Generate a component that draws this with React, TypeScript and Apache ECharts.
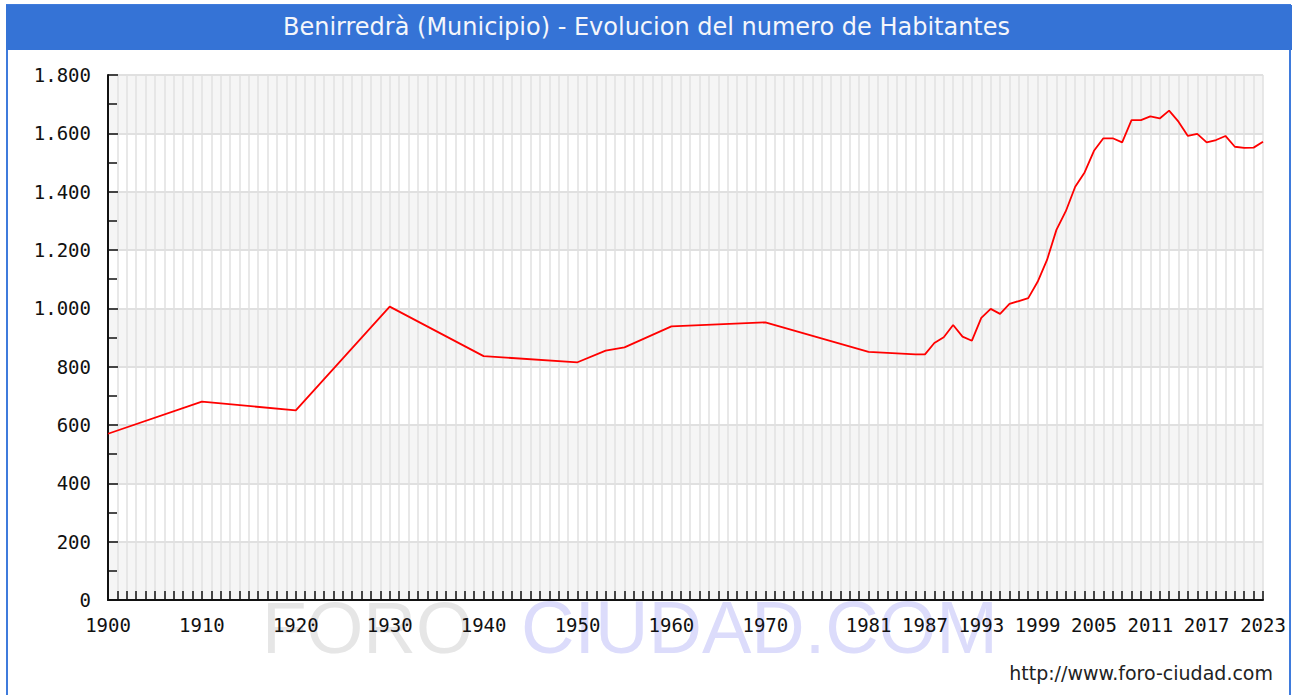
import React, { useEffect, useRef } from "react";
import * as echarts from "echarts";

const TITLE = "Benirredrà (Municipio) - Evolucion del numero de Habitantes";
const URL_TEXT = "http://www.foro-ciudad.com";

const years = [
  1900, 1910, 1920, 1930, 1940, 1950, 1953, 1955, 1960, 1970, 1981, 1986, 1987,
  1988, 1989, 1990, 1991, 1992, 1993, 1994, 1995, 1996, 1997, 1998, 1999, 2000,
  2001, 2002, 2003, 2004, 2005, 2006, 2007, 2008, 2009, 2010, 2011, 2012, 2013,
  2014, 2015, 2016, 2017, 2018, 2019, 2020, 2021, 2022, 2023,
];
const population = [
  570, 680, 650, 1006, 836, 815, 855, 866, 938, 952, 851, 842, 842,
  881, 901, 943, 903, 889, 967, 998, 981, 1015, 1025, 1035, 1091, 1166,
  1269, 1333, 1417, 1466, 1540, 1583, 1583, 1569, 1645, 1645, 1658, 1651, 1678,
  1640, 1591, 1598, 1569, 1577, 1591, 1554, 1550, 1551, 1571,
];
const xLabelYears = [
  1900, 1910, 1920, 1930, 1940, 1950, 1960, 1970, 1981, 1987, 1993, 1999, 2005,
  2011, 2017, 2023,
];

function fmtThousands(v: number): string {
  if (v >= 1000) {
    const t = Math.floor(v / 1000);
    const r = String(v % 1000).padStart(3, "0");
    return `${t}.${r}`;
  }
  return String(v);
}

export default function App() {
  const ref = useRef<HTMLDivElement>(null);
  useEffect(() => {
    if (!ref.current) return;
    const chart = echarts.init(ref.current, null, { renderer: "svg" });
    const mono = "DejaVu Sans Mono";
    chart.setOption({
      animation: false,
      title: {
        text: TITLE,
        left: "center",
        top: 15,
        padding: 0,
        textStyle: {
          color: "#f4f6fb",
          fontFamily: "DejaVu Sans",
          fontSize: 24,
          fontWeight: "normal",
        },
        z: 10,
      },
      graphic: [
        {
          type: "rect",
          z: -10,
          silent: true,
          shape: { x: 7, y: 5, width: 1283, height: 700 },
          style: { fill: "#ffffff", stroke: "#3f7bdc", lineWidth: 2 },
        },
        {
          type: "rect",
          z: -9,
          silent: true,
          shape: { x: 6, y: 5, width: 1286, height: 45 },
          style: { fill: "#3573d6" },
        },
        {
          type: "text",
          z: -8,
          silent: true,
          x: 262,
          y: 627,
          style: {
            text: "FORO",
            fontFamily: "Liberation Sans",
            fontSize: 73,
            fill: "#e6e6e6",
            verticalAlign: "middle",
            align: "left",
          },
        },
        {
          type: "text",
          z: -8,
          silent: true,
          x: 521,
          y: 627,
          style: {
            text: "CIUDAD.COM",
            fontFamily: "Liberation Sans",
            fontSize: 74,
            fill: "#dcdcfb",
            verticalAlign: "middle",
            align: "left",
          },
        },
        {
          type: "text",
          z: 5,
          silent: true,
          x: 1273,
          y: 673,
          style: {
            text: URL_TEXT,
            fontFamily: "DejaVu Sans",
            fontSize: 19,
            fill: "#222222",
            align: "right",
            verticalAlign: "middle",
          },
        },
      ],
      grid: { left: 108, top: 75, width: 1155, height: 525, containLabel: false },
      xAxis: {
        type: "value",
        min: 1900,
        max: 2023,
        interval: 1,
        axisLine: { show: true, lineStyle: { color: "#111", width: 2 } },
        axisTick: { show: true, inside: true, length: 9, lineStyle: { color: "#111", width: 1.5 } },
        axisLabel: {
          show: true,
          margin: 15,
          color: "#111",
          fontFamily: mono,
          fontSize: 19,
          formatter: (v: number) => (xLabelYears.includes(Math.round(v)) ? String(Math.round(v)) : ""),
        },
        splitLine: { show: true, lineStyle: { color: "#e0e0e0", width: 1.5 } },
      },
      yAxis: {
        type: "value",
        min: 0,
        max: 1800,
        interval: 200,
        axisLine: { show: true, lineStyle: { color: "#111", width: 2 } },
        axisTick: { show: true, inside: true, length: 10, lineStyle: { color: "#111", width: 1.5 } },
        minorTick: { show: true, splitNumber: 2, length: 9, lineStyle: { color: "#111", width: 1.5 } },
        axisLabel: {
          margin: 17,
          color: "#111",
          fontFamily: mono,
          fontSize: 19,
          formatter: (v: number) => fmtThousands(v),
        },
        splitLine: { show: true, lineStyle: { color: "#e0e0e0", width: 2 } },
        splitArea: { show: true, interval: 0, areaStyle: { color: ["#f5f5f5", "#ffffff"] } },
      },
      series: [
        {
          type: "line",
          data: years.map((y, i) => [y, population[i]]),
          showSymbol: false,
          symbol: "none",
          lineStyle: { color: "#ff0000", width: 1.8 },
          z: 3,
        },
      ],
    });
    return () => chart.dispose();
  }, []);
  return (
    <div
      ref={ref}
      style={{ position: "absolute", left: 0, top: 0, width: 1293, height: 695 }}
    />
  );
}
